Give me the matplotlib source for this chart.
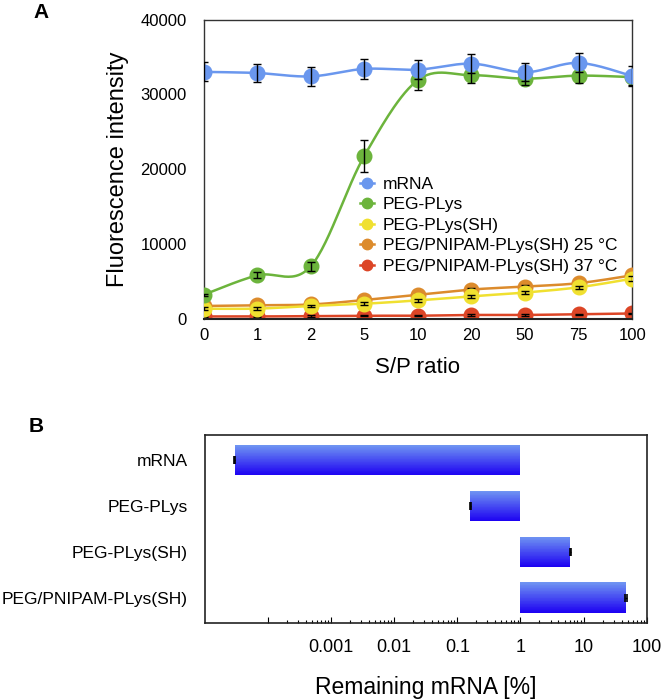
import numpy as np
import matplotlib
matplotlib.use("Agg")
import matplotlib.pyplot as plt
from matplotlib.ticker import FixedLocator, FixedFormatter, NullFormatter
from matplotlib.colors import to_rgb

plt.rcParams['font.family'] = ['Liberation Sans', 'DejaVu Sans']

# ---------------- Data: panel A ----------------
sp_labels = ['0', '1', '2', '5', '10', '20', '50', '75', '100']
series_names = ['mRNA', 'PEG-PLys', 'PEG-PLys(SH)',
                'PEG/PNIPAM-PLys(SH) 25 °C', 'PEG/PNIPAM-PLys(SH) 37 °C']
mrna_vals = [33000, 32850, 32400, 33400, 33300, 34100, 32950, 34200, 32450]
mrna_err = [1270, 1230, 1230, 1300, 1270, 1300, 1200, 1270, 1300]
pegplys_vals = [3200, 5800, 7000, 21750, 31900, 32550, 32100, 32500, 32300]
pegplys_err = [100, 380, 600, 2100, 1340, 1000, 900, 1000, 1000]
pegsh_vals = [1340, 1350, 1700, 2000, 2450, 3000, 3500, 4200, 5350]
pegsh_err = [200, 200, 150, 200, 200, 200, 200, 200, 300]
pnipam25_vals = [1700, 1800, 1900, 2500, 3200, 3900, 4300, 4750, 5800]
pnipam25_err = [200, 200, 150, 200, 150, 200, 200, 200, 300]
pnipam37_vals = [300, 300, 350, 400, 400, 500, 500, 600, 700]
pnipam37_err = [80, 80, 80, 80, 80, 80, 80, 80, 80]

# ---------------- Data: panel B ----------------
b_categories = ['mRNA', 'PEG-PLys', 'PEG-PLys(SH)', 'PEG/PNIPAM-PLys(SH)']
b_values = [3.0e-5, 0.16, 6.2, 47.0]
b_ticks = [1e-3, 1e-2, 1e-1, 1, 10, 100]
b_ticklabels = ['0.001', '0.01', '0.1', '1', '10', '100']

colors = ['#6a97ee', '#6cb43c', '#f0e030', '#dc8b2c', '#dc4526']


def smooth(x, y, n=30):
    """Excel-like Bezier smoothing through the data points (display only)."""
    x = np.asarray(x, float)
    y = np.asarray(y, float)
    P = np.column_stack([x, y])
    out = [P[0]]
    m = len(P)
    for i in range(m - 1):
        p0 = P[i - 1] if i > 0 else P[i]
        p1 = P[i]
        p2 = P[i + 1]
        p3 = P[i + 2] if i + 2 < m else P[i + 1]
        c1 = p1 + (p2 - p0) / 6.0
        c2 = p2 - (p3 - p1) / 6.0
        t = np.linspace(0, 1, n)[1:, None]
        seg = ((1 - t) ** 3) * p1 + 3 * ((1 - t) ** 2) * t * c1 + 3 * (1 - t) * t ** 2 * c2 + t ** 3 * p2
        out.extend(seg)
    out = np.array(out)
    return out[:, 0], out[:, 1]


fig = plt.figure(figsize=(6.64, 7.0), dpi=100)

# ---------------- Panel A ----------------
axA = fig.add_axes([0.3065, 0.5447, 0.6455, 0.4274])
xs = np.arange(len(sp_labels))
all_vals = [mrna_vals, pegplys_vals, pegsh_vals, pnipam25_vals, pnipam37_vals]
all_err = [mrna_err, pegplys_err, pegsh_err, pnipam25_err, pnipam37_err]
zorders = [6, 5, 4, 3, 2]
handles = []
for vals, errs, col, name, z in zip(all_vals, all_err, colors, series_names, zorders):
    sx, sy = smooth(xs, vals)
    axA.plot(sx, sy, color=col, lw=1.8, zorder=z, solid_capstyle='round')
    axA.plot(xs, vals, 'o', color=col, ms=10.5, mec=col, zorder=z + 0.1)
    axA.errorbar(xs, vals, yerr=errs, fmt='none', ecolor='black', elinewidth=1.0,
                 capsize=3.2, capthick=1.0, zorder=z + 0.2)
    h, = axA.plot([], [], marker='o', color=col, ms=7.5, lw=1.8)
    handles.append(h)

axA.set_xlim(0, 8)
axA.set_ylim(0, 40000)
axA.set_yticks([0, 10000, 20000, 30000, 40000])
axA.set_xticks(xs)
axA.set_xticklabels(sp_labels)
axA.tick_params(axis='both', length=0, labelsize=12)
axA.tick_params(axis='y', pad=12)
axA.tick_params(axis='x', pad=7)
for s in axA.spines.values():
    s.set_linewidth(1.0)
    s.set_color('#333333')
axA.spines['bottom'].set_linewidth(1.5)
axA.spines['bottom'].set_color('#222222')
axA.set_ylabel('Fluorescence intensity', fontsize=17, labelpad=8)
axA.set_xlabel('S/P ratio', fontsize=16, labelpad=10)
leg = axA.legend(handles, series_names, loc='upper left', bbox_to_anchor=(0.366, 0.475),
                 frameon=False, fontsize=12.5, handlelength=0.8, handletextpad=0.5,
                 labelspacing=0.31, borderpad=0, borderaxespad=0)

# ---------------- Panel B ----------------
axB = fig.add_axes([0.3084, 0.1104, 0.6656, 0.2682])
axB.set_xscale('log')
yb = np.arange(len(b_categories))
bar_h = 0.66
nstrip = 40
top_c = np.array(to_rgb('#7096f2'))
bot_c = np.array(to_rgb('#1c00f2'))
for yi, v in zip(yb, b_values):
    left = min(v, 1.0)
    width = abs(v - 1.0)
    for j in range(nstrip):
        frac = (j + 0.5) / nstrip  # 0 at top, 1 at bottom
        c = top_c * (1 - frac) + bot_c * frac
        yc = yi - bar_h / 2 + (j + 0.5) * bar_h / nstrip
        axB.barh(yc, width, left=left, height=bar_h / nstrip * 1.05, color=c,
                 edgecolor='none', linewidth=0, zorder=2)
axB.errorbar(b_values, yb, xerr=[np.array(b_values) * 0.02, np.array(b_values) * 0.02],
             fmt='none', ecolor='black', elinewidth=1.0, capsize=3, capthick=1.2, zorder=3)

axB.set_xlim(1e-5, 100)
axB.set_ylim(len(b_categories) - 0.45, -0.55)
axB.set_yticks(yb)
axB.set_yticklabels(b_categories)
axB.tick_params(axis='y', length=0, labelsize=12.5, pad=12)
major = [1e-4] + b_ticks
axB.xaxis.set_major_locator(FixedLocator(major))
axB.xaxis.set_major_formatter(FixedFormatter([''] + b_ticklabels))
minor = [k * 10.0 ** e for e in range(-4, 2) for k in range(2, 10)]
axB.xaxis.set_minor_locator(FixedLocator(minor))
axB.xaxis.set_minor_formatter(NullFormatter())
axB.tick_params(axis='x', which='major', direction='in', length=4, width=0.8,
                labelsize=13, pad=12)
axB.tick_params(axis='x', which='minor', direction='in', length=2.5, width=0.8)
for s in axB.spines.values():
    s.set_linewidth(1.2)
    s.set_color('#222222')
axB.set_xlabel('Remaining mRNA [%]', fontsize=16.5, labelpad=14)

fig.text(41 / 664, 1 - 12 / 700, 'A', fontsize=15, fontweight='bold', ha='center', va='center')
fig.text(36 / 664, 1 - 427 / 700, 'B', fontsize=15, fontweight='bold', ha='center', va='center')

fig.savefig('out.png', dpi=100)
